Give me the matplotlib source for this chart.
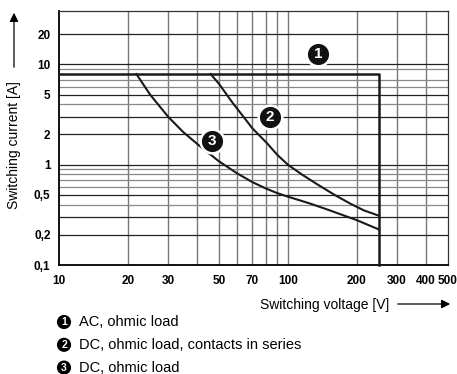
import matplotlib.pyplot as plt

plt.rcParams['font.family'] = ['Liberation Sans', 'DejaVu Sans']

# curve 1: AC, ohmic load (rectangular limit)
ac_v = [10, 250, 250]
ac_i = [8, 8, 0.1]

# curve 2: DC, ohmic load, contacts in series
dc2_v = [46, 50, 57.5, 64, 70, 81, 90, 100, 115, 134, 160, 187, 215, 250]
dc2_i = [8, 6.4, 4.1, 3.0, 2.3, 1.64, 1.25, 1.0, 0.80, 0.64, 0.50, 0.41, 0.35, 0.31]

# curve 3: DC, ohmic load
dc3_v = [21.8, 25, 30, 35, 41, 50, 60, 70, 80, 90, 100, 125, 150, 200, 250]
dc3_i = [8, 5.0, 3.0, 2.1, 1.55, 1.08, 0.82, 0.67, 0.58, 0.52, 0.48, 0.41, 0.355, 0.28, 0.226]

x_ticks = [10, 20, 30, 50, 70, 100, 200, 300, 400, 500]
x_labels = ['10', '20', '30', '50', '70', '100', '200', '300', '400', '500']
y_ticks = [0.1, 0.2, 0.5, 1, 2, 5, 10, 20]
y_labels = ['0,1', '0,2', '0,5', '1', '2', '5', '10', '20']

v_grid = [20, 30, 40, 50, 60, 70, 80, 90, 100, 200, 300, 400]
h_dark = [0.2, 0.3, 0.5, 1, 2, 3, 5, 10, 20]
h_gray = [0.4, 0.6, 0.7, 0.8, 0.9, 4, 6, 7, 9]

badges = [('1', 136, 12.6), ('2', 83.4, 3.0), ('3', 46.7, 1.71)]
legend = ['AC, ohmic load', 'DC, ohmic load, contacts in series', 'DC, ohmic load']

fig = plt.figure(figsize=(4.57, 3.74), dpi=100)
ax = fig.add_axes([0.129, 0.2914, 0.851, 0.6792])
ax.set_xscale('log')
ax.set_yscale('log')
ax.set_xlim(10, 500)
ax.set_ylim(0.1, 34)

for v in v_grid:
    ax.axvline(v, color='#777777', lw=1.0, zorder=1)
for h in h_dark:
    ax.axhline(h, color='#222222', lw=0.9, zorder=1)
for h in h_gray:
    ax.axhline(h, color='#888888', lw=0.9, zorder=1)

ax.plot(ac_v, ac_i, color='#1a1a1a', lw=1.8, zorder=3, clip_on=False)
ax.plot(dc2_v, dc2_i, color='#1a1a1a', lw=1.5, zorder=3)
ax.plot(dc3_v, dc3_i, color='#1a1a1a', lw=1.5, zorder=3)

for num, bx, by in badges:
    ax.plot(bx, by, 'o', ms=17, color='#111111', mec='white', mew=1.8, zorder=4)
    ax.text(bx, by, num, color='white', fontsize=11, fontweight='bold',
            ha='center', va='center', zorder=5)

ax.minorticks_off()
ax.set_xticks(x_ticks)
ax.set_xticklabels(x_labels, fontsize=8.5, fontweight='bold')
ax.set_yticks(y_ticks)
ax.set_yticklabels(y_labels, fontsize=8.5, fontweight='bold')
ax.tick_params(axis='x', length=0, pad=7)
ax.tick_params(axis='y', length=0, pad=6)
for s in ax.spines.values():
    s.set_color('#333333')
    s.set_linewidth(0.9)
ax.spines['left'].set_color('black')
ax.spines['left'].set_linewidth(1.3)
ax.spines['bottom'].set_color('black')
ax.spines['bottom'].set_linewidth(1.3)

# axis titles with arrows
fig.text(14 / 457, 1 - 145 / 374, 'Switching current [A]', rotation=90,
         ha='center', va='center', fontsize=10)
ax.annotate('', xy=(14 / 457, 1 - 10 / 374), xytext=(14 / 457, 1 - 70 / 374),
            xycoords='figure fraction',
            arrowprops=dict(arrowstyle='-|>', color='black', lw=0.9, mutation_scale=13))
fig.text(389 / 457, 1 - 305 / 374, 'Switching voltage [V]', ha='right', va='center', fontsize=10)
ax.annotate('', xy=(453 / 457, 1 - 304 / 374), xytext=(395 / 457, 1 - 304 / 374),
            xycoords='figure fraction',
            arrowprops=dict(arrowstyle='-|>', color='black', lw=0.9, mutation_scale=13))

for k, txt in enumerate(legend):
    y = 1 - (322 + 22.8 * k) / 374
    fig.text(64 / 457, y, str(k + 1), color='white', fontsize=7.5, fontweight='bold',
             ha='center', va='center',
             bbox=dict(boxstyle='circle,pad=0.2', fc='black', ec='none'))
    fig.text(79 / 457, y, txt, ha='left', va='center', fontsize=10.5)

fig.savefig('out.png', dpi=100)
